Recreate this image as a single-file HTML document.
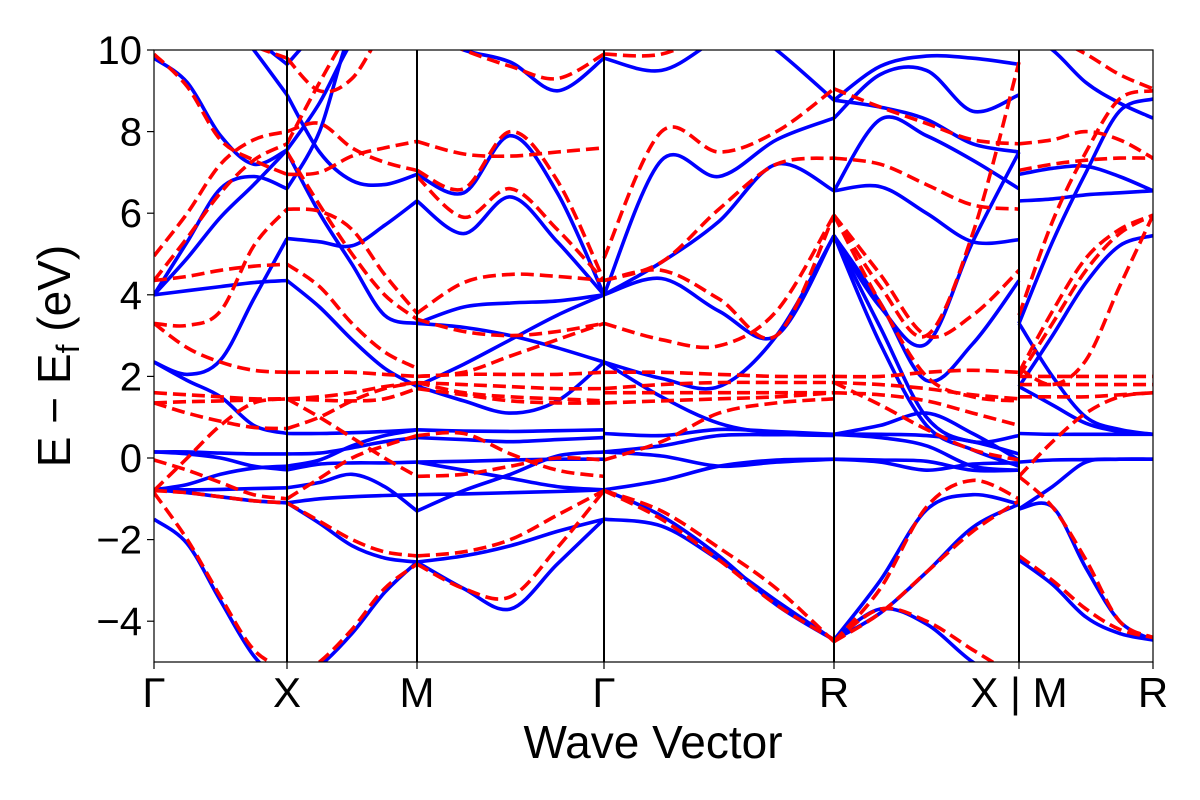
<!DOCTYPE html>
<html><head><meta charset="utf-8"><style>
html,body{margin:0;padding:0;background:#fff;}
svg{display:block;font-family:"Liberation Sans","DejaVu Sans",sans-serif;}
</style></head><body>
<svg id="chart" width="1200" height="800" viewBox="0 0 1200 800" xmlns="http://www.w3.org/2000/svg">
<defs><clipPath id="plotclip"><rect x="154" y="50" width="999" height="612"/></clipPath></defs>
<rect x="0" y="0" width="1200" height="800" fill="#fff"/>
<g id="bands" clip-path="url(#plotclip)"></g>
<g id="axes"></g>
<text x="653" y="758" font-size="46" text-anchor="middle">Wave Vector</text>
<text transform="translate(70,356) rotate(-90)" font-size="46" text-anchor="middle">E − E<tspan font-size="32" dy="9">f</tspan><tspan dy="-9"> (eV)</tspan></text>
</svg>
<script>
// k-path nodes (distance units) and labels
const kNodes = [0, 1.33, 2.63, 4.50, 6.80, 8.65];
const kMR = [8.65, 9.99];
const kLabels = ["Γ", "X", "M", "Γ", "R", "X | M", "R"];
const kLabelPos = [0, 1.33, 2.63, 4.50, 6.80, 8.65, 9.99];
const yTicks = [-4, -2, 0, 2, 4, 6, 8, 10];

// Blue (solid) bands, 5 samples per segment
const blueGX = [
 [9.8,9.2,7.9,7.2,7.55],[4.0,4.9,5.9,6.7,7.55],[4.0,5.3,6.6,6.9,6.6],[4.0,4.1,4.2,4.3,4.35],
 [2.35,2.05,2.4,3.9,5.38],[2.35,1.9,1.5,0.8,0.6],[0.15,0.15,0.12,0.1,0.1],[0.15,0.1,0.0,-0.2,-0.29],
 [-0.78,-0.65,-0.4,-0.25,-0.2],[-0.78,-0.78,-0.77,-0.75,-0.73],[-0.78,-0.85,-0.95,-1.05,-1.1],
 [-1.5,-2.1,-3.5,-4.85,-5.6],[11,11,11,10.0,8.9],[11,11,11,10.3,9.65]];
const blueXM = [
 [8.9,7.5,6.8,6.7,6.95],[9.65,10.5,11,11,11],[7.55,8.7,10.2,11,11],[7.5,6.0,4.75,3.5,3.3],
 [6.6,8.0,10.5,11,11],[5.38,5.3,5.2,5.7,6.3],[4.35,3.7,2.9,2.2,1.76],[0.6,0.6,0.62,0.65,0.69],
 [0.1,0.12,0.25,0.4,0.5],[-0.29,-0.15,-0.12,-0.12,-0.1],[-0.2,-0.05,0.3,0.55,0.69],
 [-1.1,-1.0,-0.95,-0.92,-0.9],[-1.1,-1.6,-2.15,-2.45,-2.55],[-5.6,-5.1,-4.3,-3.3,-2.55],
 [-0.73,-0.6,-0.4,-0.7,-1.3]];
const blueMG = [
 [6.95,6.5,7.9,6.5,4.0],[6.3,5.5,6.4,5.3,4.0],[3.3,3.7,3.8,3.85,4.0],[3.3,3.2,3.0,2.7,2.35],
 [1.76,1.4,1.1,1.4,2.35],[1.76,2.3,2.9,3.5,4.0],[0.69,0.66,0.65,0.67,0.69],[0.5,0.45,0.4,0.45,0.5],
 [-0.1,-0.08,-0.05,-0.03,-0.03],[-0.9,-0.88,-0.85,-0.82,-0.78],[-1.3,-0.8,-0.4,0.05,0.15],
 [-0.1,-0.3,-0.5,-0.7,-0.78],[-2.55,-2.4,-2.15,-1.8,-1.5],[-2.55,-3.2,-3.7,-2.6,-1.5],
 [10.5,10.0,9.7,9.0,9.8]];
const blueGR = [
 [-1.5,-1.67,-2.5,-3.5,-4.46],[-0.78,-1.42,-2.4,-3.6,-4.46],[-0.78,-0.55,-0.2,-0.05,-0.03],
 [0.15,0.05,-0.2,-0.1,-0.03],[0.15,0.3,0.55,0.57,0.58],[0.6,0.55,0.7,0.65,0.58],
 [2.35,1.95,1.75,3.0,5.45],[2.35,1.5,0.85,0.6,0.55],[4.0,4.4,3.6,3.0,5.45],
 [4.0,4.8,5.8,7.2,6.55],[4.0,7.3,6.9,7.8,8.33],[9.8,9.5,10.3,11,11],[11,11,11,10.0,8.77]];
const blueRX = [
 [-4.46,-3.7,-4.07,-5.0,-5.6],[-4.46,-3.8,-2.8,-1.7,-1.13],[-4.46,-3.0,-1.27,-0.9,-1.13],
 [-0.03,-0.1,-0.3,-0.15,-0.12],[-0.03,-0.05,-0.08,-0.3,-0.3],[0.58,0.58,0.55,0.4,0.1],
 [0.58,0.8,1.1,0.6,-0.05],[0.58,0.5,0.3,-0.2,-0.3],[5.45,3.2,1.0,0.4,0.55],[5.45,2.8,0.8,0.2,-0.2],
 [5.45,3.8,1.9,2.8,4.35],[5.45,3.7,2.8,5.3,7.5],[6.55,6.65,6.0,5.3,5.35],[6.55,8.3,7.9,7.3,6.6],
 [8.77,8.6,8.3,7.7,7.5],[8.33,9.4,9.5,8.5,8.9],[8.77,9.6,9.85,9.8,9.65]];
const blueMR = [
 [-2.5,-3.1,-3.9,-4.3,-4.46],[-1.25,-1.2,-2.7,-4.0,-4.46],[-1.25,-0.7,-0.1,-0.03,-0.03],
 [-0.1,-0.05,-0.04,-0.03,-0.03],[0.6,0.58,0.58,0.58,0.58],[1.75,1.3,0.85,0.65,0.58],
 [3.3,2.0,1.0,0.7,0.58],[1.75,3.0,4.3,5.2,5.45],[3.3,5.3,7.0,8.5,8.8],[6.3,6.35,6.45,6.5,6.55],
 [6.95,7.1,7.15,6.9,6.55],[10.5,10.0,9.2,8.7,8.33]];

// Red (dashed) bands
const redGX = [
 [9.9,9.1,7.8,7.3,6.95],[4.95,6.0,7.2,7.8,8.0],[4.35,5.4,6.5,7.3,7.7],[4.35,4.45,4.6,4.7,4.75],
 [3.3,3.25,3.6,5.2,6.1],[3.3,2.7,2.35,2.15,2.1],[1.6,1.55,1.5,1.45,1.45],[1.35,1.38,1.4,1.42,1.45],
 [1.35,1.1,0.9,0.75,0.72],[-0.8,0.0,0.8,1.35,1.45],[-0.05,-0.3,-0.6,-0.9,-1.0],
 [-0.85,-2.0,-3.4,-4.7,-5.2],[-0.8,-0.85,-0.95,-1.05,-1.1],[11,11,10.5,10.1,9.8]];
const redXM = [
 [6.95,7.0,7.4,7.6,7.76],[8.0,8.2,7.6,7.25,7.05],[7.7,9.2,10.5,11,11],[9.8,9.0,9.3,10.5,11],
 [6.1,6.05,5.6,4.5,3.55],[4.75,4.2,3.3,2.6,2.2],[7.5,6.2,5.0,4.0,3.4],[2.1,2.1,2.1,2.05,2.0],
 [1.45,1.5,1.6,1.75,1.85],[1.45,1.42,1.4,1.45,1.7],[0.72,1.0,1.4,1.7,1.85],
 [-1.0,-0.5,0.0,0.3,0.55],[-1.1,-1.55,-2.0,-2.3,-2.4],[-5.5,-5.0,-4.2,-3.2,-2.6],
 [1.45,1.0,0.5,0.0,-0.45]];
const redMG = [
 [7.76,7.45,7.4,7.5,7.6],[7.05,6.6,8.0,6.8,4.35],[6.9,5.9,6.6,5.6,4.35],[10.5,10.0,9.6,9.3,9.9],
 [3.55,4.3,4.5,4.45,4.35],[3.4,3.1,3.0,3.1,3.3],[2.0,2.1,2.5,2.9,3.3],[1.85,1.8,1.75,1.7,1.7],
 [1.85,1.6,1.5,1.45,1.4],[2.0,2.05,2.05,2.05,2.1],[1.7,1.55,1.4,1.35,1.35],
 [0.55,0.6,0.1,-0.3,-0.45],[-0.45,-0.4,-0.2,0.0,-0.05],[-2.4,-2.3,-2.0,-1.4,-0.8],
 [-2.6,-3.2,-3.4,-2.2,-0.8]];
const redGR = [
 [-0.8,-1.3,-2.2,-3.2,-4.5],[-0.8,-1.5,-2.5,-3.6,-4.45],[-0.05,0.4,1.1,1.35,1.45],
 [1.35,1.4,1.45,1.5,1.6],[1.6,1.6,1.6,1.6,1.6],[1.7,1.8,1.85,1.85,1.85],[2.1,2.1,2.05,2.0,2.0],
 [3.3,2.9,2.75,3.6,5.95],[4.35,4.6,3.9,3.0,5.95],[4.35,4.8,6.1,7.2,7.35],[4.9,8.0,7.5,8.0,9.05],
 [9.9,9.9,10.5,11,11]];
const redRX = [
 [-4.5,-3.7,-4.0,-4.7,-5.4],[-4.5,-3.2,-1.2,-0.55,-1.0],[-4.5,-3.8,-2.8,-1.8,-1.05],
 [1.6,1.55,1.4,1.1,0.8],[1.85,1.8,1.7,1.55,1.45],[2.0,2.0,2.1,2.15,2.1],[1.85,1.3,0.7,0.2,-0.05],
 [5.95,3.8,2.0,1.5,1.4],[5.95,4.2,3.0,5.5,9.7],[5.95,4.5,3.0,3.5,4.6],[7.35,7.2,6.7,6.2,6.1],
 [9.05,8.6,8.2,7.8,7.7]];
const redMR = [
 [-2.4,-3.0,-3.7,-4.2,-4.4],[-0.45,-1.2,-2.5,-4.0,-4.4],[-0.45,0.4,1.1,1.5,1.6],
 [1.8,1.8,1.8,1.8,1.8],[2.0,2.0,2.0,2.0,2.0],[1.5,1.5,1.5,1.55,1.6],[2.0,3.3,4.6,5.5,5.95],
 [2.1,3.6,4.9,5.6,5.95],[2.2,1.8,2.4,4.2,5.95],[3.5,5.8,7.5,8.8,9.0],[7.05,7.2,7.3,7.35,7.35],
 [7.7,7.8,8.0,7.8,7.35],[10.5,10.3,9.9,9.4,9.05]];

const PX0 = 154, PX1 = 1153, PY0 = 50, PY1 = 662, KMAX = 9.99, EMIN = -5, EMAX = 10;
function xScale(k){ return PX0 + (k / KMAX) * (PX1 - PX0); }
function yScale(e){ return PY1 - (e - EMIN) / (EMAX - EMIN) * (PY1 - PY0); }
const NS = "http://www.w3.org/2000/svg";
const bandsG = document.getElementById("bands");
const axesG = document.getElementById("axes");

function pathFor(k0, k1, vals){
  const pts = vals.map((v, i) => [xScale(k0 + (k1 - k0) * i / (vals.length - 1)), yScale(v)]);
  let d = "M" + pts[0][0].toFixed(1) + "," + pts[0][1].toFixed(1);
  for (let i = 0; i < pts.length - 1; i++) {
    const p0 = pts[Math.max(0, i - 1)], p1 = pts[i], p2 = pts[i + 1], p3 = pts[Math.min(pts.length - 1, i + 2)];
    const c1 = [p1[0] + (p2[0] - p0[0]) / 6, p1[1] + (p2[1] - p0[1]) / 6];
    const c2 = [p2[0] - (p3[0] - p1[0]) / 6, p2[1] - (p3[1] - p1[1]) / 6];
    d += " C" + c1[0].toFixed(1) + "," + c1[1].toFixed(1) + " " + c2[0].toFixed(1) + "," + c2[1].toFixed(1) + " " + p2[0].toFixed(1) + "," + p2[1].toFixed(1);
  }
  return d;
}
function drawSet(set, k0, k1, color, dashed, name){
  set.forEach(vals => {
    const p = document.createElementNS(NS, "path");
    p.setAttribute("d", pathFor(k0, k1, vals));
    p.setAttribute("fill", "none");
    p.setAttribute("stroke", color);
    p.setAttribute("stroke-width", "3.6");
    if (dashed) p.setAttribute("stroke-dasharray", "13,6");
    
    
    bandsG.appendChild(p);
  });
}
const blueSegs = [blueGX, blueXM, blueMG, blueGR, blueRX];
const redSegs = [redGX, redXM, redMG, redGR, redRX];
blueSegs.forEach((s, i) => drawSet(s, kNodes[i], kNodes[i + 1], "#0000ff", false, "blue-band"));
drawSet(blueMR, kMR[0], kMR[1], "#0000ff", false, "blue-band");
redSegs.forEach((s, i) => drawSet(s, kNodes[i], kNodes[i + 1], "#ff0000", true, "red-band"));
drawSet(redMR, kMR[0], kMR[1], "#ff0000", true, "red-band");

// symmetry lines
kLabelPos.slice(1, 6).forEach(k => {
  const l = document.createElementNS(NS, "line");
  l.setAttribute("x1", xScale(k)); l.setAttribute("x2", xScale(k));
  l.setAttribute("y1", PY0); l.setAttribute("y2", PY1);
  l.setAttribute("stroke", "#000"); l.setAttribute("stroke-width", "2");
  
  
  axesG.appendChild(l);
});
// frame
const fr = document.createElementNS(NS, "rect");
fr.setAttribute("x", PX0); fr.setAttribute("y", PY0);
fr.setAttribute("width", PX1 - PX0); fr.setAttribute("height", PY1 - PY0);
fr.setAttribute("fill", "none"); fr.setAttribute("stroke", "#000"); fr.setAttribute("stroke-width", "1.2");


axesG.appendChild(fr);
// y ticks
yTicks.forEach(v => {
  const y = yScale(v);
  const t = document.createElementNS(NS, "line");
  t.setAttribute("x1", PX0 - 7); t.setAttribute("x2", PX0); t.setAttribute("y1", y); t.setAttribute("y2", y);
  t.setAttribute("stroke", "#000"); t.setAttribute("stroke-width", "1.2");
  
  
  axesG.appendChild(t);
  const tx = document.createElementNS(NS, "text");
  tx.setAttribute("x", PX0 - 12); tx.setAttribute("y", y + 14);
  tx.setAttribute("font-size", "40"); tx.setAttribute("text-anchor", "end");
  tx.textContent = v < 0 ? "−" + Math.abs(v) : String(v);
  
  
  axesG.appendChild(tx);
});
// x ticks
kLabelPos.forEach((k, i) => {
  const x = xScale(k);
  const t = document.createElementNS(NS, "line");
  t.setAttribute("x1", x); t.setAttribute("x2", x); t.setAttribute("y1", PY1); t.setAttribute("y2", PY1 + 7);
  t.setAttribute("stroke", "#000"); t.setAttribute("stroke-width", "1.2");
  
  
  axesG.appendChild(t);
  const tx = document.createElementNS(NS, "text");
  tx.setAttribute("x", x); tx.setAttribute("y", 707);
  tx.setAttribute("font-size", "42"); tx.setAttribute("text-anchor", "middle");
  tx.textContent = kLabels[i];
  
  
  axesG.appendChild(tx);
});
</script>
</body></html>
